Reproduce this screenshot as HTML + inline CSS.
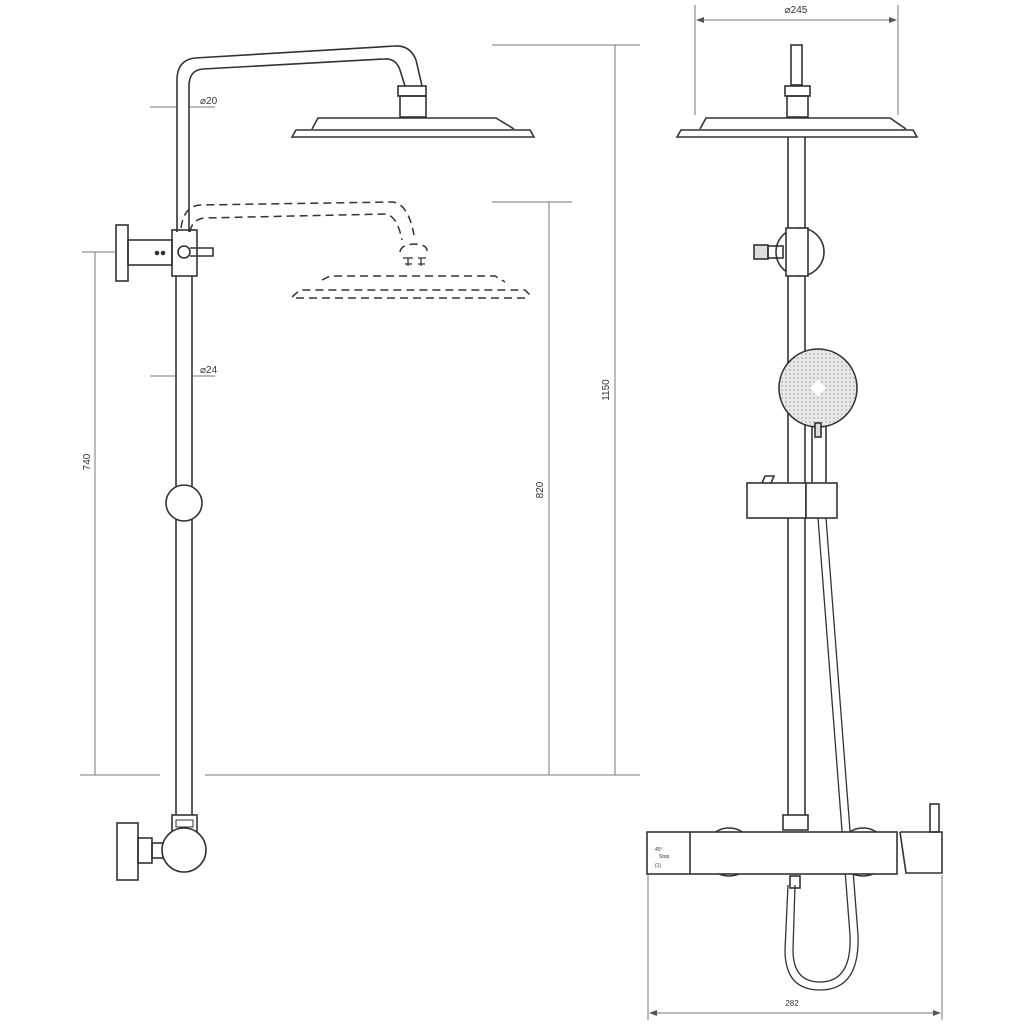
<!DOCTYPE html>
<html><head><style>body{margin:0;background:#fff}svg{display:block}text{font-family:"Liberation Sans",sans-serif;fill:#333}</style></head><body>
<svg width="1024" height="1024" viewBox="0 0 1024 1024" xmlns="http://www.w3.org/2000/svg">
<defs>
<pattern id="dots" width="4" height="4" patternUnits="userSpaceOnUse"><rect width="4" height="4" fill="#e8e8e8"/><circle cx="2" cy="2" r="1" fill="#bbb"/></pattern>
<marker id="ar" markerWidth="8" markerHeight="6" refX="7" refY="3" orient="auto-start-reverse"><path d="M0,0 L8,3 L0,6 Z" fill="#555"/></marker>
</defs>
<g fill="none" stroke="#333" stroke-width="1.6">
<path d="M177,232 V80 Q177,60 195,58 L395,46 Q410,45 416,60 L422,86"/>
<path d="M189,232 V86 Q189,70 203,69 L384,59 Q396,58 400,70 L405,86"/>
<rect x="398" y="86" width="28" height="10"/>
<rect x="400" y="96" width="26" height="21"/>
<path d="M312,129 L318,118 L496,118 L514,129"/>
<path d="M292,137 L296,130 L530,130 L534,137 Z"/>
<rect x="172" y="230" width="25" height="46"/>
<circle cx="184" cy="252" r="6"/>
<path d="M190,248 H213 V256 H190"/>
<rect x="116" y="225" width="12" height="56"/>
<rect x="128" y="240" width="44" height="25"/>
<circle cx="157" cy="253" r="1.5" fill="#333"/><circle cx="163" cy="253" r="1.5" fill="#333"/>
<line x1="176" y1="276" x2="176" y2="815"/>
<line x1="192" y1="276" x2="192" y2="815"/>
<circle cx="184" cy="503" r="18" fill="#fff"/>
<rect x="172" y="815" width="25" height="20"/>
<rect x="176" y="820" width="17" height="7" stroke-width="1"/>
<rect x="117" y="823" width="21" height="57"/>
<rect x="138" y="838" width="14" height="25"/>
<rect x="152" y="843" width="11" height="15"/>
<circle cx="184" cy="850" r="22" fill="#fff"/>
<g stroke-dasharray="8,5" stroke-width="1.5">
<path d="M181,228 Q184,206 200,205 L392,202 Q408,203 414,235"/>
<path d="M190,232 Q192,219 205,218 L385,214 Q397,215 402,240"/>
<path d="M400,252 Q401,244 416,244 Q428,245 427,252"/>
<path d="M322,280 L330,276 L495,276 L505,282"/>
<path d="M292,297 L300,290 L525,290 L533,298"/>
<line x1="296" y1="298" x2="530" y2="298"/>
</g>
<path d="M403,258 H413 M405,264 H412 M418,258 H426 M418,264 H425 M408,258 V266 M421,258 V266" stroke-width="1.3"/>
<g stroke="#777" stroke-width="1">
<line x1="150" y1="107" x2="176" y2="107"/><line x1="190" y1="107" x2="215" y2="107"/>
<line x1="150" y1="376" x2="175" y2="376"/><line x1="193" y1="376" x2="215" y2="376"/>
<line x1="80" y1="775" x2="160" y2="775"/><line x1="205" y1="775" x2="640" y2="775"/>
<line x1="82" y1="252" x2="116" y2="252"/>
<line x1="95" y1="252" x2="95" y2="775"/>
<line x1="492" y1="202" x2="572" y2="202"/>
<line x1="549" y1="202" x2="549" y2="775"/>
<line x1="492" y1="45" x2="640" y2="45"/>
<line x1="615" y1="45" x2="615" y2="775"/>
</g>
<rect x="791" y="45" width="11" height="40"/>
<rect x="785" y="86" width="25" height="10"/>
<rect x="787" y="96" width="21" height="21"/>
<path d="M700,129 L706,118 L890,118 L906,129"/>
<path d="M677,137 L681,130 L913,130 L917,137 Z"/>
<line x1="788" y1="137" x2="788" y2="815"/>
<line x1="805" y1="137" x2="805" y2="815"/>
<circle cx="800" cy="252" r="24" fill="#fff"/>
<rect x="786" y="228" width="22" height="48" fill="#fff"/>
<rect x="754" y="245" width="14" height="14" fill="#ddd"/>
<rect x="768" y="246" width="15" height="12"/>
<line x1="812" y1="425" x2="812" y2="483"/><line x1="826" y1="425" x2="826" y2="483"/>
<circle cx="818" cy="388" r="39" fill="url(#dots)"/>
<path d="M818,380 L826,388 L818,396 L810,388 Z" fill="#fff" stroke="none"/>
<rect x="815" y="423" width="6" height="14" fill="#ddd"/>
<path d="M762,483 L765,476 L774,476 L771,483"/>
<rect x="747" y="483" width="59" height="35" fill="#fff"/>
<rect x="806" y="483" width="31" height="35" fill="#fff"/>
<path d="M818,518 L850,935 Q852,982 820,982 Q793,982 793,950 L795,885" stroke-width="1.3"/>
<path d="M826,518 L858,935 Q860,990 820,990 Q785,990 785,950 L788,885" stroke-width="1.3"/>
<circle cx="729" cy="852" r="24" fill="#fff"/>
<circle cx="863" cy="852" r="24" fill="#fff"/>
<rect x="783" y="815" width="25" height="15" fill="#fff"/>
<rect x="647" y="832" width="250" height="42" fill="#fff"/>
<line x1="690" y1="832" x2="690" y2="874"/>
<rect x="930" y="804" width="9" height="28"/>
<path d="M900,832 H942 V873 H906 L900,832"/>
<rect x="790" y="876" width="10" height="12"/>
<text x="655" y="851" font-size="5" stroke="none">45°</text>
<text x="659" y="858" font-size="5" stroke="none">Stop</text>
<text x="655" y="867" font-size="5" stroke="none">(1)</text>
<g stroke="#777" stroke-width="1">
<line x1="695" y1="5" x2="695" y2="115"/><line x1="898" y1="5" x2="898" y2="115"/>
<line x1="697" y1="20" x2="896" y2="20" marker-start="url(#ar)" marker-end="url(#ar)"/>
<line x1="648" y1="875" x2="648" y2="1020"/><line x1="942" y1="875" x2="942" y2="1020"/>
<line x1="650" y1="1013" x2="940" y2="1013" marker-start="url(#ar)" marker-end="url(#ar)"/>
</g>
</g>
<text x="200" y="104" font-size="10">⌀20</text>
<text x="200" y="373" font-size="10">⌀24</text>
<text x="90" y="462" font-size="10" transform="rotate(-90 90 462)" text-anchor="middle">740</text>
<text x="543" y="490" font-size="10" transform="rotate(-90 543 490)" text-anchor="middle">820</text>
<text x="609" y="390" font-size="10" transform="rotate(-90 609 390)" text-anchor="middle">1150</text>
<text x="796" y="13" font-size="10" text-anchor="middle">⌀245</text>
<text x="792" y="1006" font-size="8" text-anchor="middle">282</text>
</svg>
</body></html>
